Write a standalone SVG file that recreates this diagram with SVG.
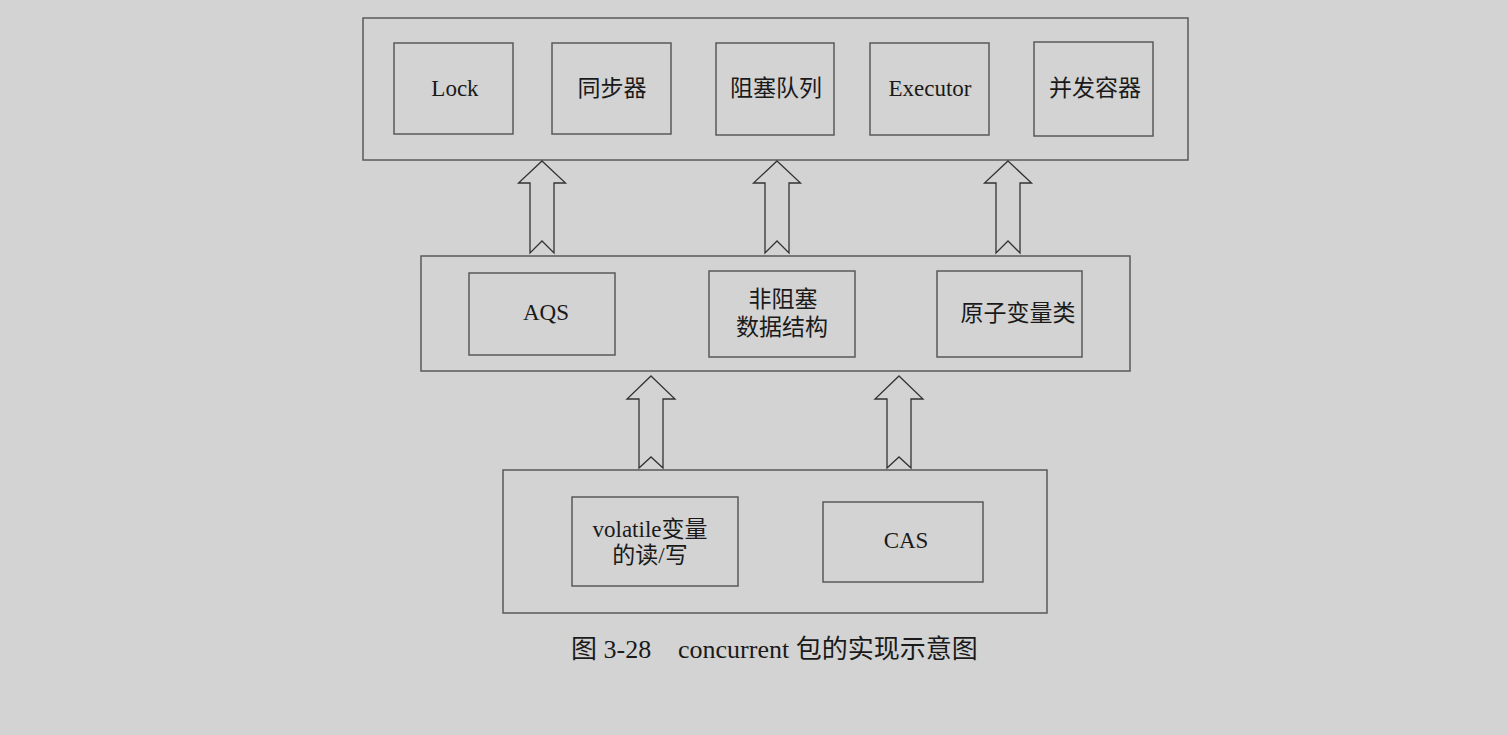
<svg xmlns="http://www.w3.org/2000/svg" width="1508" height="735" viewBox="0 0 1508 735">
<style>
.bg{fill:#d3d3d3}
.box{fill:none;stroke:#5a5a5a;stroke-width:1.5}
.arrow{fill:#d3d3d3;stroke:#333;stroke-width:1.3;stroke-linejoin:miter}
text{font-family:"Liberation Serif","Noto Sans CJK SC",serif;font-size:23px;fill:#1a1a1a;text-anchor:middle}
.cap{font-size:26px;text-anchor:start}
</style>
<rect class="bg" x="0" y="0" width="1508" height="735"/>
<g id="layer-top">
<rect class="box" x="363" y="18" width="825" height="142"/>
</g>
<g id="node-lock"><rect class="box" x="394" y="43" width="119" height="91"/><text x="455" y="96">Lock</text></g>
<g id="node-sync"><rect class="box" x="552" y="43" width="119" height="91"/><text x="612" y="96">同步器</text></g>
<g id="node-bq"><rect class="box" x="716" y="43" width="118" height="92"/><text x="776" y="96">阻塞队列</text></g>
<g id="node-exec"><rect class="box" x="870" y="43" width="119" height="92"/><text x="930" y="96">Executor</text></g>
<g id="node-cc"><rect class="box" x="1034" y="42" width="119" height="94"/><text x="1095" y="96">并发容器</text></g>
<g id="layer-mid">
<rect class="box" x="421" y="256" width="709" height="115"/>
</g>
<g id="node-aqs"><rect class="box" x="469" y="273" width="146" height="82"/><text x="546" y="320">AQS</text></g>
<g id="node-nb"><rect class="box" x="709" y="271" width="146" height="86"/><text x="783" y="307">非阻塞</text><text x="782" y="335">数据结构</text></g>
<g id="node-atomic"><rect class="box" x="937" y="271" width="145" height="86"/><text x="1018" y="321">原子变量类</text></g>
<g id="layer-bottom">
<rect class="box" x="503" y="470" width="544" height="143"/>
</g>
<g id="node-volatile"><rect class="box" x="572" y="497" width="166" height="89"/><text x="650" y="537">volatile变量</text><text x="650" y="563">的读/写</text></g>
<g id="node-cas"><rect class="box" x="823" y="502" width="160" height="80"/><text x="906" y="548">CAS</text></g>
<g id="connectors">
<polygon class="arrow" points="542,161 565.5,183 554,183 554,253 542,241 530,253 530,183 518.5,183"/>
<polygon class="arrow" points="777,161 800.5,183 789,183 789,253 777,241 765,253 765,183 753.5,183"/>
<polygon class="arrow" points="1008,161 1031.5,183 1020,183 1020,253 1008,241 996,253 996,183 984.5,183"/>
<polygon class="arrow" points="651,376 675,399 663,399 663,468 651,457 639,468 639,399 627,399"/>
<polygon class="arrow" points="899,376 923,399 911,399 911,468 899,457 887,468 887,399 875,399"/>
</g>
<text class="cap" x="571" y="658">图 3-28<tspan x="678">concurrent 包的实现示意图</tspan></text>
</svg>
